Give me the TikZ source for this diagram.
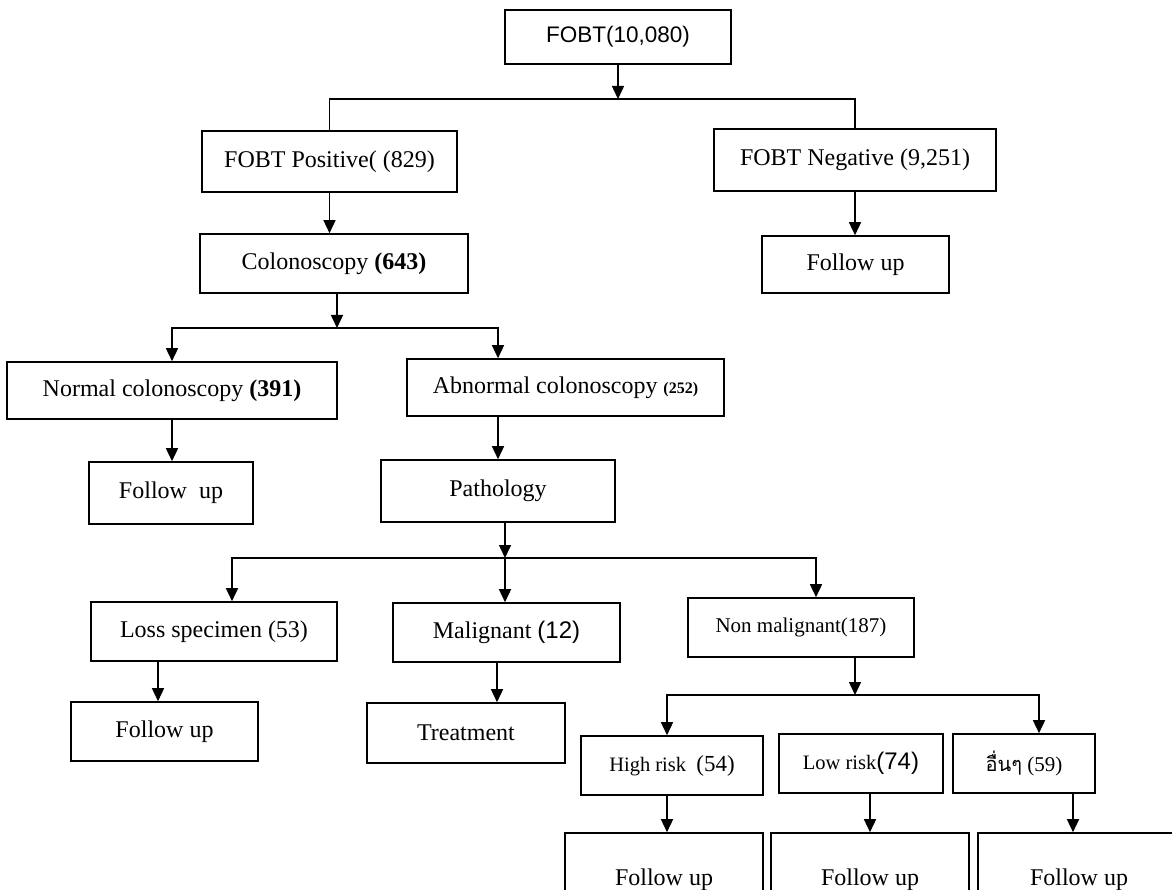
\documentclass[tikz,border=0pt]{standalone}
\usepackage{fontspec}
\setmainfont{Liberation Serif}
\newfontfamily\arialf{Liberation Sans}
\newfontfamily\thaif[Script=Thai]{Loma}
\usetikzlibrary{arrows.meta}
\begin{document}
\begin{tikzpicture}[x=1pt,y=-1pt,
  box/.style={draw, line width=1.6pt, inner sep=0pt, align=center, font=\fontsize{24}{28}\selectfont},
  ln/.style={line width=1.5pt},
  arr/.style={line width=1.5pt, -{Triangle[length=13pt,width=12pt]}}]
\useasboundingbox (0,0) rectangle (1172,890);
\clip (0,0) rectangle (1172,890);
\fill[white] (0,0) rectangle (1172,890);

% nodes
\node[box, minimum width=226pt, minimum height=54pt, font=\arialf\fontsize{22.5}{26}\selectfont] (fobt) at (618,37) {FOBT(10,080)};
\node[box, minimum width=255pt, minimum height=61pt] (pos) at (329.5,161.5) {FOBT Positive( (829)};
\node[box, minimum width=282pt, minimum height=62pt] (neg) at (855,160) {FOBT Negative (9,251)};
\node[box, minimum width=187pt, minimum height=57pt] (fu0) at (855.5,264.5) {Follow up};
\node[box, minimum width=268pt, minimum height=59pt] (col) at (334,263.5) {Colonoscopy \textbf{(643)}};
\node[box, minimum width=330pt, minimum height=57pt] (nor) at (172,390.5) {Normal colonoscopy \textbf{(391)}};
\node[box, minimum width=317pt, minimum height=57pt] (abn) at (565.5,387.5) {Abnormal colonoscopy {\fontsize{16}{18}\selectfont\textbf{(252)}}};
\node[box, minimum width=164pt, minimum height=62pt] (fu1) at (171,493) {Follow\ \ up};
\node[box, minimum width=234pt, minimum height=62pt] (pat) at (498,491) {Pathology};
\node[box, minimum width=246pt, minimum height=59pt] (loss) at (214,631.5) {Loss specimen (53)};
\node[box, minimum width=187pt, minimum height=59pt] (fu2) at (164.5,731.5) {Follow up};
\node[box, minimum width=227pt, minimum height=59pt] (mal) at (506.5,632.5) {Malignant {\arialf(12)}};
\node[box, minimum width=198pt, minimum height=60pt] (trt) at (466,733) {Treatment};
\node[box, minimum width=226pt, minimum height=59pt, font=\fontsize{21}{25}\selectfont] (non) at (801,627.5) {Non malignant(187)};
\node[box, minimum width=182pt, minimum height=59pt, font=\fontsize{20.5}{25}\selectfont] (hr) at (672,765.5) {High risk\ \ {\fontsize{23}{27}\selectfont(54)}};
\node[box, minimum width=164pt, minimum height=59pt, font=\fontsize{20.5}{25}\selectfont] (lr) at (861,763.5) {Low risk{\arialf\fontsize{24}{28}\selectfont(74)}};
\node[box, minimum width=142pt, minimum height=59pt, font=\fontsize{21}{25}\selectfont] (oth) at (1024,763.5) {{\thaif\fontsize{20}{25}\selectfont อื่นๆ} (59)};
\node[box, minimum width=198pt, minimum height=94pt] (fb1) at (664,880) {Follow up};
\node[box, minimum width=198pt, minimum height=94pt] (fb2) at (870,880) {Follow up};
\node[box, minimum width=202pt, minimum height=94pt] (fb3) at (1079,880) {Follow up};

% junctions
\coordinate (j1) at (618,99);
\coordinate (j2) at (337,328);
\coordinate (j3) at (505,558);
\coordinate (j4) at (855,695);
\coordinate (abnS) at ([xshift=-67.5pt]abn.south);
\coordinate (lossN) at ([xshift=18pt]loss.north);
\coordinate (lossS) at ([xshift=-56pt]loss.south);
\coordinate (malS) at ([xshift=-9.5pt]mal.south);
\coordinate (nonN) at ([xshift=15pt]non.north);
\coordinate (hrN) at ([xshift=-5pt]hr.north);
\coordinate (hrS) at ([xshift=-5pt]hr.south);
\coordinate (lrS) at ([xshift=9pt]lr.south);
\coordinate (othN) at ([xshift=15pt]oth.north);
\coordinate (othS) at ([xshift=49pt]oth.south);

% connectors
\draw[arr] (fobt.south) -- (j1);
\draw[ln] (pos.north) |- (j1) -| (neg.north);
\draw[arr] (pos.south) -- (pos.south |- col.north);
\draw[arr] (neg.south) -- (neg.south |- fu0.north);
\draw[arr] (col.south -| j2) -- (j2);
\draw[arr] (j2) -| (nor.north);
\draw[arr] (j2) -| (abnS |- abn.north);
\draw[arr] (nor.south) -- (nor.south |- fu1.north);
\draw[arr] (abnS) -- (abnS |- pat.north);
\draw[arr] (pat.south -| j3) -- (j3);
\draw[arr] (j3) -- (j3 |- mal.north);
\draw[arr] (j3) -| (lossN);
\draw[arr] (j3) -| (nonN);
\draw[arr] (lossS) -- (lossS |- fu2.north);
\draw[arr] (malS) -- (malS |- trt.north);
\draw[arr] (non.south -| j4) -- (j4);
\draw[arr] (j4) -| (hrN);
\draw[arr] (j4) -| (othN);
\draw[arr] (hrS) -- (hrS |- fb1.north);
\draw[arr] (lrS) -- (lrS |- fb2.north);
\draw[arr] (othS) -- (othS |- fb3.north);
\end{tikzpicture}
\end{document}
